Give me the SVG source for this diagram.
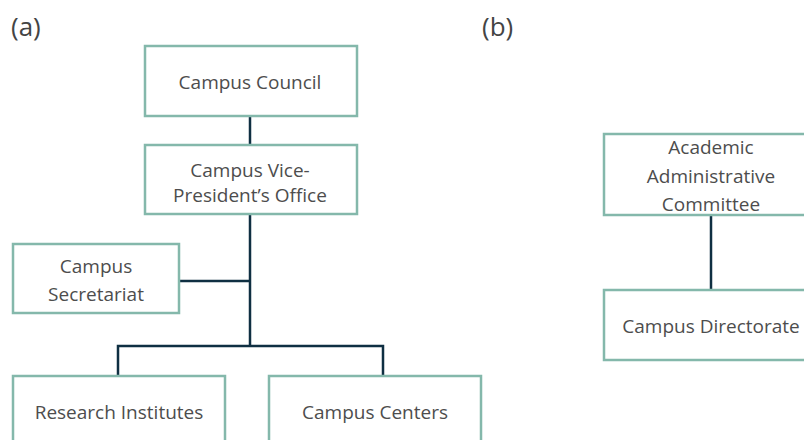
<svg xmlns="http://www.w3.org/2000/svg" width="804" height="440" viewBox="0 0 804 440">
<style>
.box{fill:#fff;stroke:#84b8ab;stroke-width:2.5}
.t{font-family:"Open Sans",sans-serif;font-size:19px;fill:#4d4d4d;text-anchor:middle}
.lbl{font-family:"Open Sans",sans-serif;font-size:26px;fill:#444}
.c{fill:none;stroke:#0f2f42;stroke-width:2.5}
</style>
<rect width="804" height="440" fill="#fff"/>
<text class="lbl" x="11" y="36">(a)</text>
<text class="lbl" x="482" y="36">(b)</text>
<g id="connectors">
<path class="c" d="M250 116V145"/>
<path class="c" d="M250 214V346"/>
<path class="c" d="M179 281H250"/>
<path class="c" d="M118 376V346H383V376"/>
<path class="c" d="M711 215V290"/>
</g>
<g id="council"><rect class="box" x="145" y="46" width="212" height="70"/><text class="t" x="250" y="89">Campus Council</text></g>
<g id="vp"><rect class="box" x="145" y="145" width="212" height="69"/><text class="t" x="250" y="177">Campus Vice-</text><text class="t" x="250" y="202">President’s Office</text></g>
<g id="secretariat"><rect class="box" x="13" y="244" width="166" height="69"/><text class="t" x="96" y="273">Campus</text><text class="t" x="96" y="301">Secretariat</text></g>
<g id="research"><rect class="box" x="13" y="376" width="212" height="80"/><text class="t" x="119" y="419">Research Institutes</text></g>
<g id="centers"><rect class="box" x="269" y="376" width="212" height="80"/><text class="t" x="375" y="419">Campus Centers</text></g>
<g id="academic"><rect class="box" x="604" y="134" width="216" height="81"/><text class="t" x="711" y="154">Academic</text><text class="t" x="711" y="183">Administrative</text><text class="t" x="711" y="211">Committee</text></g>
<g id="directorate"><rect class="box" x="604" y="290" width="216" height="70"/><text class="t" x="711" y="333">Campus Directorate</text></g>
</svg>
